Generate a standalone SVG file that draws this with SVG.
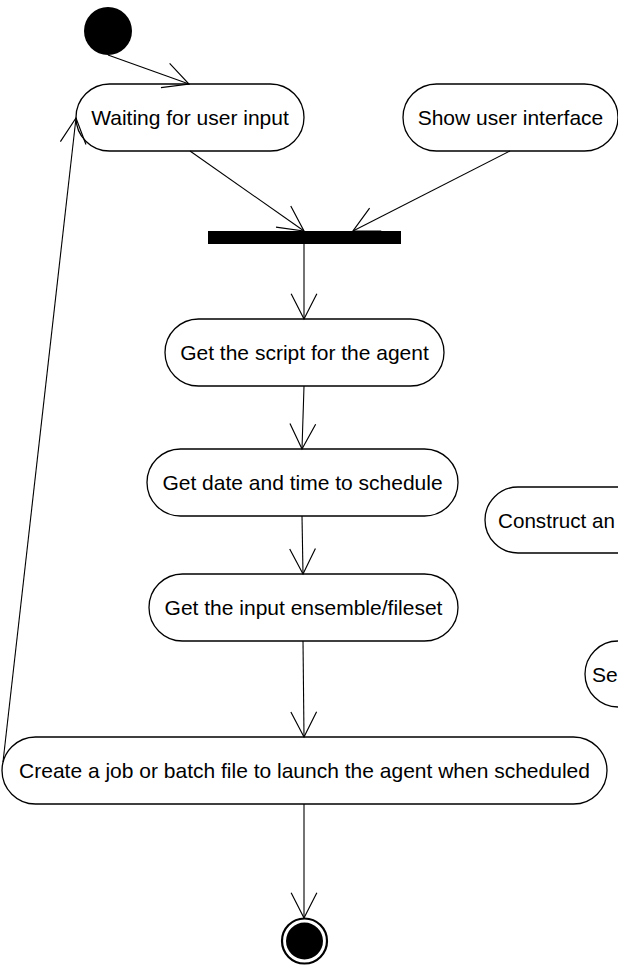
<svg xmlns="http://www.w3.org/2000/svg" width="618" height="967" viewBox="0 0 618 967">
<defs>
<style>
.node{fill:#fff;stroke:#000;stroke-width:1.3}
.lbl{font-family:"Liberation Sans",Arial,sans-serif;font-size:21px;fill:#000;text-anchor:middle}
.lbs{font-family:"Liberation Sans",Arial,sans-serif;font-size:21px;fill:#000;text-anchor:start}
.edge{fill:none;stroke:#000;stroke-width:1.1}
</style>
<marker id="arr" markerUnits="userSpaceOnUse" markerWidth="30" markerHeight="30" viewBox="-26 -14 28 28" refX="0" refY="0" orient="auto">
<path d="M -23.5 -12 L 0 0 L -23.5 12" fill="none" stroke="#000" stroke-width="1.1"/>
</marker>
</defs>
<rect width="618" height="967" fill="#fff"/>
<g id="start"><circle cx="108" cy="31" r="24" fill="#000"/></g>
<g id="waiting"><rect class="node" x="76" y="84" width="228" height="67" rx="33.5"/><text class="lbl" x="190" y="125">Waiting for user input</text></g>
<g id="show"><rect class="node" x="403" y="84" width="215" height="67" rx="33.5"/><text class="lbl" x="510.5" y="125">Show user interface</text></g>
<g id="fork"><rect x="208" y="231" width="193" height="13" fill="#000"/></g>
<g id="script"><rect class="node" x="165" y="319" width="279" height="67" rx="33.5"/><text class="lbl" x="304.5" y="360">Get the script for the agent</text></g>
<g id="date"><rect class="node" x="147" y="449" width="311" height="67" rx="33.5"/><text class="lbl" x="302.5" y="490">Get date and time to schedule</text></g>
<g id="input"><rect class="node" x="149" y="574" width="309" height="67" rx="33.5"/><text class="lbl" x="303.5" y="615">Get the input ensemble/fileset</text></g>
<g id="construct"><rect class="node" x="485" y="487" width="260" height="66" rx="33"/><text class="lbs" x="498" y="528" textLength="117" lengthAdjust="spacingAndGlyphs">Construct an</text></g>
<g id="se"><rect class="node" x="585" y="641" width="200" height="66" rx="33"/><text class="lbs" x="592" y="682">Se</text></g>
<g id="create"><rect class="node" x="2" y="737" width="605" height="67" rx="33.5"/><text class="lbl" x="304.5" y="778">Create a job or batch file to launch the agent when scheduled</text></g>
<g id="end"><circle cx="304.5" cy="941" r="22.5" fill="#fff" stroke="#000" stroke-width="2.2"/><circle cx="304.5" cy="941" r="18.5" fill="#000"/></g>
<g id="connectors">
<line class="edge" x1="108" y1="55" x2="189" y2="84" marker-end="url(#arr)"/>
<line class="edge" x1="190" y1="151" x2="304" y2="231" marker-end="url(#arr)"/>
<line class="edge" x1="510" y1="151" x2="353" y2="231" marker-end="url(#arr)"/>
<line class="edge" x1="304" y1="244" x2="304" y2="319" marker-end="url(#arr)"/>
<line class="edge" x1="304" y1="386" x2="302" y2="449" marker-end="url(#arr)"/>
<line class="edge" x1="302" y1="516" x2="303" y2="574" marker-end="url(#arr)"/>
<line class="edge" x1="303" y1="641" x2="304" y2="737" marker-end="url(#arr)"/>
<line class="edge" x1="304" y1="804" x2="304" y2="918" marker-end="url(#arr)"/>
<line class="edge" x1="3" y1="762" x2="76" y2="118" marker-end="url(#arr)"/>
</g>
</svg>
